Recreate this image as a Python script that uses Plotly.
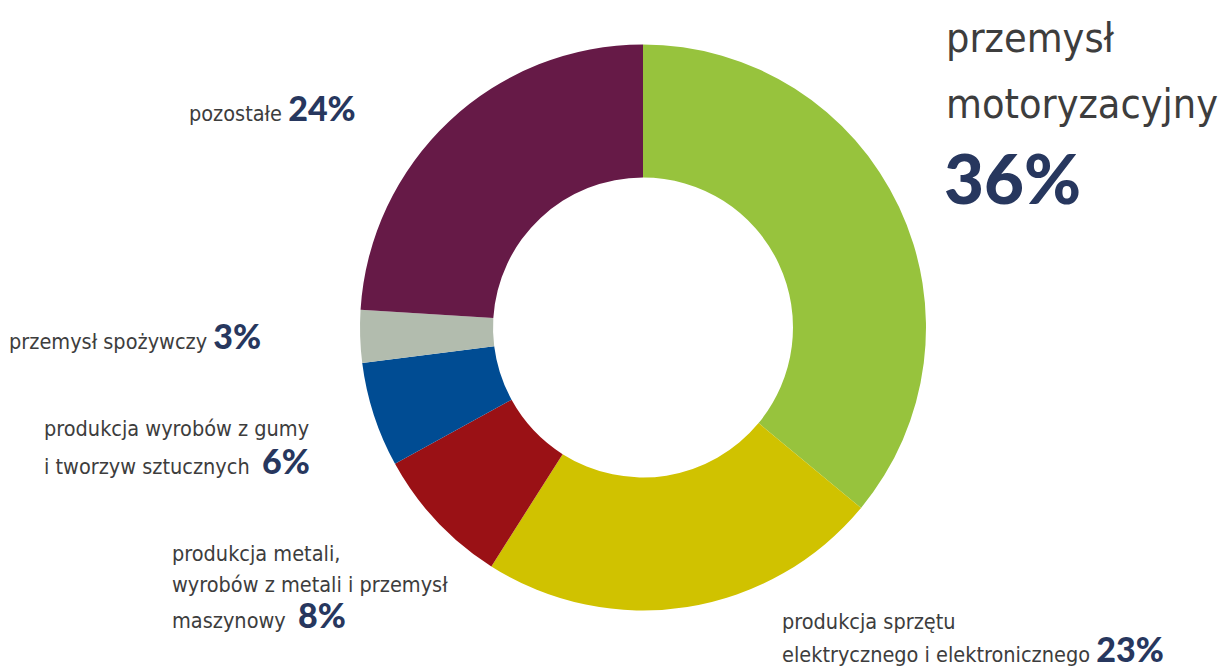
import plotly.graph_objects as go

# Industry shares (percent), clockwise from 12 o'clock
sectors = [
    "przemysł motoryzacyjny",
    "produkcja sprzętu elektrycznego i elektronicznego",
    "produkcja metali, wyrobów z metali i przemysł maszynowy",
    "produkcja wyrobów z gumy i tworzyw sztucznych",
    "przemysł spożywczy",
    "pozostałe",
]
shares = [36, 23, 8, 6, 3, 24]
colors = ["#97c33d", "#d0c200", "#9a1115", "#004c93", "#b2bcae", "#661a47"]

# Label lines for each sector (the last line carries the percentage)
label_lines = [
    ["przemysł", "motoryzacyjny"],
    ["produkcja sprzętu", "elektrycznego i elektronicznego"],
    ["produkcja metali,", "wyrobów z metali i przemysł", "maszynowy "],
    ["produkcja wyrobów z gumy", "i tworzyw sztucznych "],
    ["przemysł spożywczy"],
    ["pozostałe"],
]

W, H = 1222, 670
TEXT_FONT = "Liberation Sans Narrow, DejaVu Sans Condensed, sans-serif"
PCT_FONT = "Lato, Open Sans, sans-serif"
TEXT_COLOR = "#3d3d3d"
PCT_COLOR = "#27375e"

fig = go.Figure(
    go.Pie(
        labels=sectors,
        values=shares,
        marker=dict(colors=colors, line=dict(width=0)),
        hole=0.53,
        sort=False,
        direction="clockwise",
        rotation=0,
        textinfo="none",
        hoverinfo="label+percent",
        domain=dict(x=[360 / W, 926 / W], y=[1 - 611 / H, 1 - 44 / H]),
    )
)


def px(x):
    return x / W


def py(y):
    return 1 - y / H


def pct_span(v, size):
    return (
        f"<span style='font-family:{PCT_FONT};font-size:{size}px;"
        f"font-weight:900;color:{PCT_COLOR}'>{v}%</span>"
    )


annotations = []


def add_line(text, x, y, size, yanchor="middle"):
    annotations.append(
        dict(
            text=text,
            x=px(x),
            y=py(y),
            xref="paper",
            yref="paper",
            xanchor="left",
            yanchor=yanchor,
            showarrow=False,
            align="left",
            borderpad=0,
            font=dict(family=TEXT_FONT, size=size, color=TEXT_COLOR),
        )
    )


# Line anchor positions (left x, middle y) for each sector's label block
small_pos = {
    1: (781, [621, 650]),
    2: (171, [553, 584, 614]),
    3: (43, [428, 460]),
    4: (8, [335]),
    5: (188, [107]),
}
SMALL = 21.5
for i, (x, ys) in small_pos.items():
    lines = label_lines[i]
    for j, (line, y) in enumerate(zip(lines, ys)):
        txt = line
        if j == len(lines) - 1:
            txt = f"{line} {pct_span(shares[i], 34)}"
        if i == 1 and j == len(lines) - 1:
            # bottom line of the lowest label sits flush with the bottom edge
            add_line(txt, x, H, SMALL, yanchor="bottom")
        else:
            add_line(txt, x, y, SMALL)

# Headline sector
add_line(label_lines[0][0], 945, 38, 41)
add_line(label_lines[0][1], 945, 104, 41)
add_line(pct_span(shares[0], 69), 943, 178, 41)

fig.update_layout(
    width=W,
    height=H,
    margin=dict(l=0, r=0, t=0, b=0),
    paper_bgcolor="white",
    plot_bgcolor="white",
    showlegend=False,
    annotations=annotations,
)

fig.write_html("out.html", config={"displayModeBar": False})
